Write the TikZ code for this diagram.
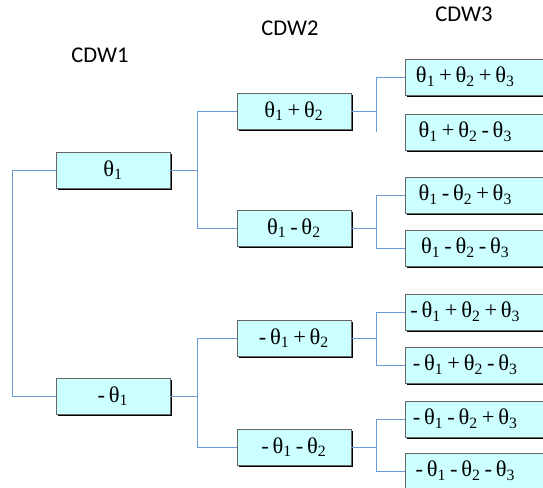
\documentclass[tikz,border=0pt]{standalone}
\usepackage{fontspec}
\setmainfont{Liberation Serif}
\newfontfamily\labelfont{Carlito}
\usetikzlibrary{positioning,calc,shadows}
\definecolor{boxfill}{HTML}{CCFFFF}
\definecolor{linkblue}{HTML}{6A9BD8}
\newcommand{\thsub}[1]{θ\textsubscript{#1}}
\newcommand{\pl}{\,+\,}
\newcommand{\mi}{\,-\,}
\newcommand{\leaftext}[1]{\makebox[72pt]{#1}\hspace*{18pt}}

\begin{document}
\begin{tikzpicture}[x=0.6pt, y=-0.6pt,
  wave/.style={draw=black!60, fill=boxfill, line width=0.5pt, minimum width=68.4pt, minimum height=21.6pt, inner sep=0pt, font=\fontsize{13.5}{15}\selectfont, drop shadow={shadow xshift=1.1pt, shadow yshift=-1.1pt, fill=black, opacity=1}},
  leaf/.style={wave, minimum width=0pt, anchor=west},
  level/.style={font=\labelfont\fontsize{13.5}{15}\selectfont},
  link/.style={draw=linkblue, line width=0.6pt}]
\clip (0,0) rectangle (543,488);
% column titles
\node[level] (cdw1) at (100,55) {CDW1};
\node[level] (cdw2) at (290,28) {CDW2};
\node[level] (cdw3) at (464,14) {CDW3};
% first wave
\node[wave] (t1) at (113,170) {\thsub1};
\node[wave] (mt1) at (113,396) {-\,\thsub1};
% second wave
\node[wave] (t1pt2) at (294,111) {\thsub1\pl\thsub2};
\node[wave] (t1mt2) at (294,228) {\thsub1\mi\thsub2};
\node[wave] (mt1pt2) at (294,338) {-\,\thsub1\pl\thsub2};
\node[wave] (mt1mt2) at (294,447) {-\,\thsub1\mi\thsub2};
% third wave
\node[leaf] (t1pt2pt3) at (405,77) {\leaftext{\thsub1\pl\thsub2\pl\thsub3}};
\node[leaf] (t1pt2mt3) at (405,132) {\leaftext{\thsub1\pl\thsub2\mi\thsub3}};
\node[leaf] (t1mt2pt3) at (405,195) {\leaftext{\thsub1\mi\thsub2\pl\thsub3}};
\node[leaf] (t1mt2mt3) at (405,248) {\leaftext{\thsub1\mi\thsub2\mi\thsub3}};
\node[leaf] (mt1pt2pt3) at (405,312) {\leaftext{-\,\thsub1\pl\thsub2\pl\thsub3}};
\node[leaf] (mt1pt2mt3) at (405,365) {\leaftext{-\,\thsub1\pl\thsub2\mi\thsub3}};
\node[leaf] (mt1mt2pt3) at (405,419) {\leaftext{-\,\thsub1\mi\thsub2\pl\thsub3}};
\node[leaf] (mt1mt2mt3) at (405,471) {\leaftext{-\,\thsub1\mi\thsub2\mi\thsub3}};
% links
\draw[link] (t1.west) -- ++(-43,0) |- (mt1.west);
\draw[link] (t1.east) -- ++(27,0) |- (t1pt2.west);
\draw[link] (t1.east) ++(27,0) |- (t1mt2.west);
\draw[link] (mt1.east) -- ++(27,0) |- (mt1pt2.west);
\draw[link] (mt1.east) ++(27,0) |- (mt1mt2.west);
% the upper pair is only joined to its first box
\coordinate (jA) at ($(t1pt2.east)+(25,0)$);
\draw[link] (t1pt2.east) -- (jA);
\draw[link] (t1pt2pt3.west) -| (jA) -- (jA |- t1pt2mt3.west);
\draw[link] (t1mt2.east) -- ++(25,0) |- (t1mt2pt3.west);
\draw[link] (t1mt2.east) ++(25,0) |- (t1mt2mt3.west);
\draw[link] (mt1pt2.east) -- ++(25,0) |- (mt1pt2pt3.west);
\draw[link] (mt1pt2.east) ++(25,0) |- (mt1pt2mt3.west);
\draw[link] (mt1mt2.east) -- ++(25,0) |- (mt1mt2pt3.west);
\draw[link] (mt1mt2.east) ++(25,0) |- (mt1mt2mt3.west);
\end{tikzpicture}
\end{document}
